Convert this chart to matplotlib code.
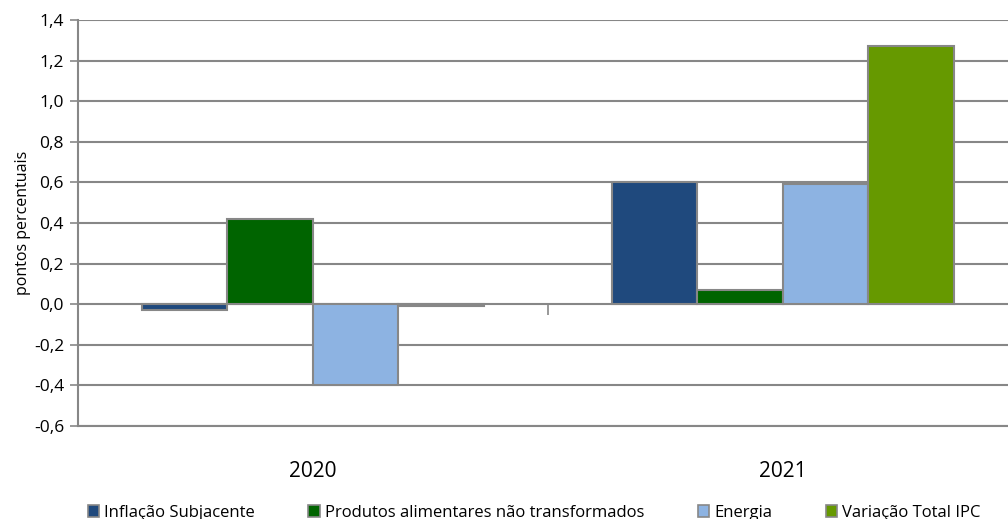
import numpy as np
import matplotlib.pyplot as plt
import matplotlib.patches as mpatches
from matplotlib.ticker import FuncFormatter, FixedLocator

# DATA -----------------------------------------------------------------------------------------------------------------
years = ['2020', '2021']
series_names = ['Inflação Subjacente', 'Produtos alimentares não transformados', 'Energia', 'Variação Total IPC']
inflacao_subjacente = [-0.03, 0.60]
produtos_alimentares = [0.42, 0.07]
energia = [-0.40, 0.59]
variacao_total = [-0.01, 1.27]

colors = ['#1F497D', '#006400', '#8DB3E2', '#669900']
edge = '#878787'

# PLOT -----------------------------------------------------------------------------------------------------------------
plt.rcParams['font.family'] = ['Open Sans', 'DejaVu Sans']
fig = plt.figure(figsize=(10.08, 5.19), dpi=100)
ax = fig.add_axes([78 / 1008, 1 - 426 / 519, 1 - 78 / 1008, (426 - 20) / 519])

x = np.arange(len(years))
bar_w = 342 / 470 / 4
all_series = [inflacao_subjacente, produtos_alimentares, energia, variacao_total]
for i, vals in enumerate(all_series):
    offs = (i - 1.5) * bar_w
    ax.bar(x + offs, vals, width=bar_w, color=colors[i], edgecolor=edge, linewidth=1.5, zorder=3)

ax.set_ylim(-0.6, 1.4)
ax.set_xlim(-0.5, 1.479)
ax.set_yticks(np.arange(-0.6, 1.41, 0.2))
ax.yaxis.set_major_formatter(FuncFormatter(lambda v, p: f'{v:.1f}'.replace('.', ',').replace('-0,0', '0,0')))
ax.grid(axis='y', color=edge, linewidth=1.5, zorder=1)
ax.set_axisbelow(True)

# year labels under the plot
ax.set_xticks(x)
ax.set_xticklabels(years)
ax.tick_params(axis='x', length=0, labelsize=15, pad=25)
ax.tick_params(axis='y', length=6, width=1.2, color=edge, labelsize=12.5, pad=4)

# category boundary tick sitting on the zero line
sec = ax.secondary_xaxis(0.3)
sec.set_xticks([0.5])
sec.set_xticklabels([''])
sec.tick_params(length=8, width=1.2, color=edge, direction='out')
sec.spines['bottom'].set_visible(False)

for s in ['top', 'right']:
    ax.spines[s].set_visible(False)
ax.spines['left'].set_color(edge)
ax.spines['left'].set_linewidth(1.5)
ax.spines['bottom'].set_color(edge)
ax.spines['bottom'].set_linewidth(1.5)

ax.set_ylabel('pontos percentuais', fontsize=11.5, labelpad=2)

handles = [mpatches.Patch(facecolor=c, edgecolor=edge, linewidth=1.2) for c in colors]
fig.legend(handles, series_names, loc='center', bbox_to_anchor=(0.53, 0.012), ncol=4, frameon=False,
           fontsize=12, handlelength=0.7, handleheight=0.7, handletextpad=0.3, columnspacing=3.2)

plt.savefig('out.png', dpi=100)
